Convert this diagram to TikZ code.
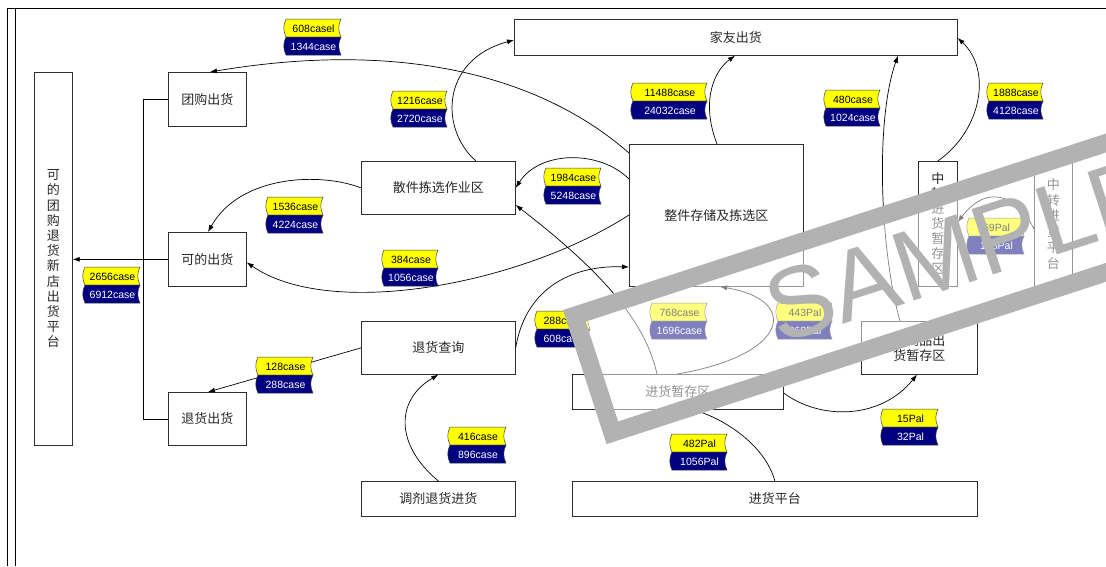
\documentclass[tikz,border=0pt]{standalone}
\usepackage{fontspec}
\setmainfont{Liberation Sans}
\newfontfamily\cjk{Noto Sans CJK SC}
\usetikzlibrary{arrows.meta}
\definecolor{tagyellow}{RGB}{255,255,0}
\definecolor{tagnavy}{RGB}{0,0,128}
\definecolor{boxline}{RGB}{45,45,45}
\definecolor{boxtext}{RGB}{40,40,40}
\definecolor{wmgray}{RGB}{178,178,178}
\newcommand\flowtag[6]{%
\begin{scope}[shift={(#2,#3)}]
 \path[tagline,fill=tagyellow] (3,0) -- (#4,0) .. controls ({#4-3},6) and ({#4-3},12) .. (#4,18) -- (3,18) .. controls (0,12) and (0,6) .. cycle;
 \path[tagline,fill=tagnavy] (3,18) -- (#4,18) .. controls ({#4-3},24) and ({#4-3},30) .. (#4,36) -- (3,36) .. controls (0,30) and (0,24) .. cycle;
 \node[tagtext] (#1a) at ({#4/2+1.5},9.5) {#5};
 \node[tagtext,text=white] (#1b) at ({#4/2+1.5},27.5) {#6};
\end{scope}}
\begin{document}
\begin{tikzpicture}[x=1pt,y=-1pt,
 box/.style={draw=boxline, line width=0.7pt, anchor=north west, inner sep=0pt, font=\cjk\fontsize{13}{16}\selectfont, text=boxtext, align=center},
 conn/.style={draw=black, line width=0.7pt, -{Latex[length=7pt,width=5pt]}},
 plain/.style={draw=black, line width=0.7pt},
 tagline/.style={draw=black!75, line width=0.5pt},
 tagtext/.style={font=\fontsize{10.5}{12}\selectfont, inner sep=0pt}]
\useasboundingbox (0,0) rectangle (1106,566);
\fill[white] (0,0) rectangle (1106,566);
% page frame
\draw[line width=0.8pt] (7,566) -- (7,8) -- (1106,8);
\draw[line width=0.8pt] (15,8) -- (15,566);
% boxes
\node[box, minimum width=38pt, minimum height=373pt, font=\cjk\fontsize{13}{15.2}\selectfont] (plat) at (34,72) {可\\的\\团\\购\\退\\货\\新\\店\\出\\货\\平\\台};
\node[box, minimum width=78pt, minimum height=54pt] (tg) at (168,72) {团购出货};
\node[box, minimum width=78pt, minimum height=54pt] (kd) at (168,232) {可的出货};
\node[box, minimum width=78pt, minimum height=53pt] (th) at (168,392) {退货出货};
\node[box, minimum width=443pt, minimum height=36pt] (jy) at (514,19) {家友出货};
\node[box, minimum width=154pt, minimum height=53pt] (sj) at (361,161) {散件拣选作业区};
\node[box, minimum width=174pt, minimum height=142pt] (zj) at (629,144) {整件存储及拣选区};
\node[box, minimum width=39pt, minimum height=125pt, font=\cjk\fontsize{13}{15}\selectfont] (zzc) at (918,161) {中\\转\\进\\货\\暂\\存\\区};
\node[box, minimum width=38pt, minimum height=125pt, font=\cjk\fontsize{13}{15.8}\selectfont] (zpt) at (1034,161) {中\\转\\进\\货\\平\\台};
\node[box, minimum width=154pt, minimum height=53pt] (thcx) at (361,321) {退货查询};
\node[box, minimum width=154pt, minimum height=35pt] (tj) at (361,481) {调剂退货进货};
\node[box, minimum width=211pt, minimum height=35pt] (jzc) at (572,374) {进货暂存区};
\node[box, minimum width=405pt, minimum height=35pt] (jpt) at (572,481) {进货平台};
\node[box, minimum width=116pt, minimum height=53pt, font=\cjk\fontsize{13}{15}\selectfont] (zsp) at (861,321) {转商品出\\货暂存区};
% bracket and platform arrow
\draw[plain] (tg.west) -- ([xshift=-25pt]tg.west) -- ([xshift=-25pt]th.west) -- (th.west);
\draw[conn] (kd.west) -- (kd.west -| plat.east);
% connectors
\draw[conn] ([yshift=-9pt]zj.north west) .. controls (540,75) and (400,40) .. ([xshift=42pt]tg.north west);
\draw[conn] ([yshift=-35pt]zj.north west) .. controls (600,150) and (540,150) .. (sj.east);
\draw[conn] ([xshift=115pt]sj.north west) .. controls (440,130) and (440,60) .. ([yshift=-21pt]jy.north west);
\draw[conn] (sj.west) .. controls (320,172) and (240,175) .. ([xshift=40pt]kd.north west);
\draw[conn] ([yshift=-71pt]zj.north west) .. controls (520,285) and (330,320) .. ([yshift=-3pt]kd.east);
\draw[conn] (thcx.east) .. controls (525,290) and (570,265) .. ([yshift=-123pt]zj.north west);
\draw[conn] ([xshift=85pt]jzc.north west) .. controls (645,320) and (600,270) .. ([yshift=-44pt]sj.north east);
\draw[conn] ([xshift=105pt]jzc.north west) .. controls (790,355) and (800,300) .. ([xshift=91pt]zj.south west);
\draw[conn] ([yshift=-19pt]jzc.north east) .. controls (820,420) and (880,420) .. ([xshift=56pt]zsp.south west);
\draw[conn] ([xshift=88pt]zj.north west) .. controls (700,100) and (715,70) .. ([xshift=221pt]jy.south west);
\draw[conn] ([xshift=39pt]zsp.north west) .. controls (880,250) and (875,120) .. ([xshift=384pt]jy.south west);
\draw[conn] (zzc.north) .. controls (982,130) and (992,70) .. ([yshift=-19pt]jy.north east);
\draw[conn] (thcx.west) -- ([xshift=40pt]th.north west);
\draw[conn] (tj.north) .. controls (395,445) and (395,400) .. (thcx.south);
\draw[conn] (jpt.north) .. controls (765,445) and (725,420) .. ([xshift=121pt]jzc.south west);
\draw[conn] ([yshift=-68pt]zpt.north west) .. controls (1020,200) and (990,180) .. ([yshift=-61pt]zzc.north east);
% flow tags
\flowtag{t1}{283}{19}{58}{608casel}{1344case}
\flowtag{t2}{390}{91}{57}{1216case}{2720case}
\flowtag{t3}{630}{83}{77}{11488case}{24032case}
\flowtag{t4}{823}{90}{57}{480case}{1024case}
\flowtag{t5}{986}{83}{57}{1888case}{4128case}
\flowtag{t6}{543}{168}{58}{1984case}{5248case}
\flowtag{t7}{265}{197}{58}{1536case}{4224case}
\flowtag{t8}{381}{250}{57}{384case}{1056case}
\flowtag{t9}{82}{267}{58}{2656case}{6912case}
\flowtag{t10}{255}{357}{58}{128case}{288case}
\flowtag{t11}{534}{311}{56}{288case}{608case}
\flowtag{t12}{649}{303}{58}{768case}{1696case}
\flowtag{t13}{775}{303}{57}{443Pal}{960Pal}
\flowtag{t14}{447}{427}{59}{416case}{896case}
\flowtag{t15}{669}{434}{58}{482Pal}{1056Pal}
\flowtag{t16}{880}{409}{58}{15Pal}{32Pal}
\flowtag{t17}{966}{218}{58}{59Pal}{128Pal}
% watermark stamp
\begin{scope}
\clip (0,0) rectangle (1106,566);
\begin{scope}[shift={(563,310)}, rotate=18]
\fill[white, opacity=0.5] (0,0) rectangle (800,141);
\draw[wmgray, line width=18pt] (9,9) rectangle (791,132);
\node[font=\fontsize{100}{100}\selectfont, text=wmgray, anchor=base west, inner sep=0pt, rotate=18] (wm) at (195,100) {SAMPLE};
\end{scope}
\end{scope}
\end{tikzpicture}
\end{document}
